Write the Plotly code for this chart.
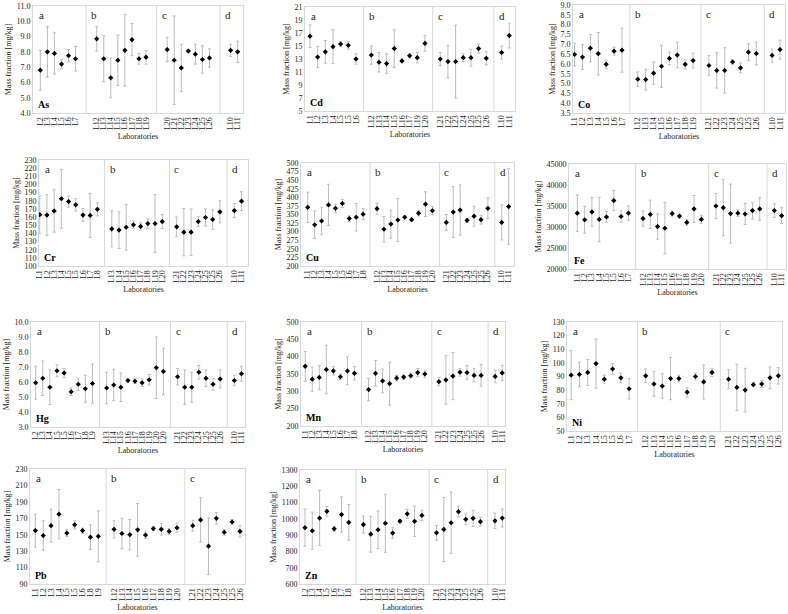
import plotly.graph_objects as go

# ── Colours / fonts ──────────────────────────
C_BORDER = "#d9d9d9"
C_ERR    = "#bdbdbd"
C_TEXT   = "#262626"
SERIF    = "Liberation Serif"
W, H     = 788, 614

# ── Data: lab labels per section (a, b, c, d), mean value, uncertainty ──
AS_LABS = [["L2", "L3", "L4", "L5", "L6", "L7"],
           ["L12", "L13", "L14", "L15", "L16", "L17", "L18", "L19"],
           ["L20", "L21", "L22", "L23", "L24", "L25", "L26"],
           ["L10", "L11"]]
AS_MEAN = [6.8, 8.0, 7.9, 7.2, 7.75, 7.55,
           8.85, 7.55, 6.3, 7.45, 8.1, 8.8, 7.55, 7.65,
           8.15, 7.45, 6.95, 8.05, 7.85, 7.5, 7.6,
           8.1, 8.0]
AS_UNC = [1.3, 1.65, 1.35, 0.3, 0.4, 0.8,
          0.8, 1.5, 1.3, 1.65, 2.35, 1.05, 0.35, 0.45,
          0.8, 2.9, 1.55, 0.1, 0.65, 0.9, 0.6,
          0.4, 0.7]

CD_LABS = [["L1", "L2", "L3", "L4", "L5", "L5", "L6"],
           ["L12", "L13", "L14", "L15", "L16", "L17", "L19", "L20"],
           ["L21", "L22", "L23", "L24", "L25", "L25", "L26"],
           ["L10", "L11"]]
CD_MEAN = [16.5, 13.3, 14.1, 14.9, 15.3, 15.1, 13.0,
           13.6, 12.5, 12.3, 14.6, 12.7, 13.5, 13.2, 15.4,
           13.0, 12.6, 12.6, 13.2, 13.2, 14.6, 13.1,
           14.0, 16.6]
CD_UNC = [1.75, 1.6, 1.75, 2.6, 0.4, 0.6, 0.8,
          1.4, 1.5, 1.5, 2.9, 0.3, 0.3, 0.8, 1.2,
          1.0, 2.5, 5.6, 0.6, 1.3, 0.7, 1.0,
          1.0, 1.9]

CO_LABS = [["L1", "L2", "L3", "L4", "L5", "L6", "L7"],
           ["L12", "L13", "L14", "L15", "L16", "L17", "L18", "L19"],
           ["L21", "L22", "L23", "L24", "L25", "L25", "L26"],
           ["L10", "L11"]]
CO_MEAN = [6.48, 6.35, 6.8, 6.52, 5.98, 6.65, 6.7,
           5.22, 5.2, 5.53, 5.88, 6.28, 6.45, 5.98, 6.17,
           5.92, 5.67, 5.67, 6.1, 5.8, 6.6, 6.53,
           6.43, 6.73]
CO_UNC = [0.58, 0.63, 0.7, 1.08, 0.22, 0.2, 1.12,
          0.37, 0.53, 0.57, 1.07, 0.32, 0.65, 0.22, 0.38,
          0.5, 0.9, 1.15, 0.1, 0.25, 0.43, 0.58,
          0.33, 0.48]

CR_LABS = [["L1", "L2", "L3", "L4", "L5", "L5", "L6", "L7", "L8"],
           ["L13", "L14", "L15", "L16", "L17", "L18", "L19", "L20"],
           ["L21", "L22", "L23", "L24", "L25", "L25", "L26"],
           ["L10", "L11"]]
CR_MEAN = [163, 162.5, 167.5, 182.5, 179, 175, 162.5, 162, 169.5,
           145.5, 144, 147.5, 150.5, 148.5, 152, 152, 154.5,
           148, 141.5, 141.5, 154.5, 159.5, 157, 166.5,
           168, 179.5]
CR_UNC = [23, 25, 26, 36, 7, 7.5, 8, 27, 8,
          22, 22.5, 28, 4.5, 4.5, 6, 35.5, 8.5,
          12, 29, 28.5, 6, 10.5, 12, 13.5,
          8.5, 11.5]

CU_LABS = [["L1", "L2", "L3", "L4", "L5", "L5", "L6", "L7", "L8"],
           ["L12", "L13", "L14", "L15", "L16", "L17", "L18", "L19", "L20"],
           ["L21", "L22", "L23", "L24", "L25", "L25", "L26"],
           ["L10", "L11"]]
CU_MEAN = [371, 320, 331, 378, 368, 382, 338, 342, 351,
           367, 307, 322, 334, 342, 335, 354, 380, 361,
           327, 357, 363, 333, 345, 335, 368,
           327, 373]
CU_UNC = [44, 40, 40, 60, 12, 12, 8, 40, 16,
          17, 37, 41, 62, 5, 4, 8, 36, 12,
          23, 74, 73, 6, 29, 13, 30,
          51, 110]

FE_LABS = [["L1", "L2", "L3", "L4", "L5", "L5", "L6", "L7"],
           ["L12", "L13", "L14", "L15", "L16", "L17", "L18", "L19", "L20"],
           ["L21", "L22", "L23", "L24", "L25", "L25", "L26"],
           ["L10", "L11"]]
FE_MEAN = [33300, 31700, 33600, 31800, 32400, 36300, 32500, 33300,
           32000, 33000, 30100, 29700, 33200, 32600, 31100, 34300, 31800,
           35000, 34600, 33200, 33300, 33100, 33900, 34300,
           33900, 32700]
FE_UNC = [4350, 3200, 3400, 5300, 1300, 2400, 1400, 1700,
          1800, 3400, 3000, 6100, 600, 500, 700, 3200, 1000,
          3000, 6700, 7000, 800, 2500, 2000, 2700,
          1600, 1900]

HG_LABS = [["L2", "L3", "L4", "L5", "L5", "L6", "L7", "L8", "L9"],
           ["L13", "L14", "L15", "L16", "L17", "L18", "L19", "L20", "L20"],
           ["L21", "L22", "L23", "L24", "L25", "L25", "L26"],
           ["L10", "L11"]]
HG_MEAN = [5.95, 6.25, 5.65, 6.75, 6.6, 5.35, 5.85, 5.55, 5.9,
           5.6, 5.8, 5.65, 6.1, 6.05, 5.95, 6.15, 6.95, 6.7,
           6.35, 5.65, 5.65, 6.65, 6.25, 5.85, 6.2,
           6.1, 6.55]
HG_UNC = [1.1, 1.15, 1.15, 0.4, 0.3, 0.25, 0.4, 0.9, 1.3,
          1.05, 1.05, 0.95, 0.1, 0.15, 0.25, 0.35, 2.05, 1.55,
          0.55, 1.15, 1.0, 0.45, 0.55, 0.4, 0.6,
          0.35, 0.5]

MN_LABS = [["L1", "L2", "L3", "L4", "L5", "L6", "L7", "L8"],
           ["L12", "L13", "L14", "L15", "L16", "L17", "L18", "L19", "L20"],
           ["L21", "L22", "L23", "L24", "L25", "L25", "L26"],
           ["L10", "L11"]]
MN_MEAN = [372, 335, 340, 363, 359, 342, 359, 352,
           305, 352, 330, 322, 338, 341, 345, 354, 350,
           328, 333, 344, 355, 354, 346, 346,
           343, 353]
MN_UNC = [43, 35, 35, 70, 12, 8, 40, 19,
          32, 37, 34, 62, 8, 6, 7, 12, 11,
          12, 70, 68, 11, 20, 19, 31,
          18, 22]

NI_LABS = [["L1", "L2", "L3", "L4", "L5", "L5", "L6", "L7"],
           ["L12", "L13", "L14", "L15", "L16", "L17", "L18", "L19", "L20"],
           ["L21", "L22", "L23", "L24", "L25", "L25", "L26"]]
NI_MEAN = [91, 91.5, 93, 99.5, 88, 95.5, 89, 81,
           90.5, 84.5, 83, 88.5, 88.5, 78.5, 90, 86, 93,
           88, 82, 80, 84, 84.5, 89, 90.5]
NI_UNC = [18, 9, 9.5, 18, 3, 4, 3.5, 7.5,
          5, 9, 9, 15.5, 2.5, 3.5, 2.5, 12.5, 3,
          7, 17, 16, 1.5, 2.5, 8, 6]

PB_LABS = [["L1", "L2", "L3", "L4", "L5", "L5", "L6", "L8", "L9"],
           ["L12", "L13", "L14", "L15", "L16", "L17", "L18", "L19", "L20"],
           ["L21", "L22", "L23", "L24", "L25", "L25", "L26"]]
PB_MEAN = [155, 149, 161, 175, 152, 162, 155, 147, 148,
           156.5, 151.5, 150, 156, 149.5, 157.5, 156.5, 154, 158.5,
           161, 168, 136, 170, 153, 165.5, 154]
PB_UNC = [20, 18, 20, 30, 4, 5, 3, 15, 31,
          10.5, 18.5, 18.5, 32, 4, 2.5, 7, 3.5, 5.5,
          6.5, 27, 34.5, 7, 3.5, 3, 7]

ZN_LABS = [["L2", "L3", "L4", "L5", "L6", "L7", "L8"],
           ["L12", "L13", "L14", "L15", "L16", "L17", "L18", "L19", "L20"],
           ["L21", "L22", "L23", "L24", "L25", "L25", "L26"],
           ["L10", "L11"]]
ZN_MEAN = [946, 927, 1005, 1046, 939, 1026, 978,
           965, 906, 933, 973, 913, 986, 1031, 985, 1021,
           914, 935, 976, 1044, 997, 1003, 983,
           988, 1005]
ZN_UNC = [114, 114, 170, 30, 15, 108, 110,
          52, 110, 115, 178, 33, 10, 28, 93, 32,
          45, 197, 188, 33, 32, 50, 27,
          47, 55]

SECTIONS = ["a", "b", "c", "d"]

# ── Panel layout: element, data, box in px (l, r, t, b), y range, dtick, fmt,
#    slots between sections, left / right padding in slots ──
PANELS = [
    ("As", AS_LABS, AS_MEAN, AS_UNC, (33, 243, 6, 113),   (4, 11),        1,    ".1f", 3, 1.04, 0.76),
    ("Cd", CD_LABS, CD_MEAN, CD_UNC, (305, 515, 7, 111),  (5, 21),        2,    "d",   2, 0.65, 0.75),
    ("Co", CO_LABS, CO_MEAN, CO_UNC, (573, 785, 5, 113),  (3.5, 9),       0.5,  ".1f", 2, 0.2,  0.63),
    ("Cr", CR_LABS, CR_MEAN, CR_UNC, (39, 248, 160, 266), (100, 230),     10,   "d",   2, 0.1,  0.9),
    ("Cu", CU_LABS, CU_MEAN, CU_UNC, (301, 514, 163, 266), (200, 500),    25,   "d",   2, 0.97, 0.77),
    ("Fe", FE_LABS, FE_MEAN, FE_UNC, (569, 786, 164, 269), (20000, 45000), 5000, "d",  2, 1.14, 0.6),
    ("Hg", HG_LABS, HG_MEAN, HG_UNC, (31, 245, 322, 427), (3, 10),        1,    ".1f", 2, 0.66, 0.5),
    ("Mn", MN_LABS, MN_MEAN, MN_UNC, (301, 505, 322, 426), (200, 500),    50,   "d",   2, 0.6,  0.4),
    ("Ni", NI_LABS, NI_MEAN, NI_UNC, (567, 782, 322, 431), (50, 130),     10,   "d",   2, 0.5,  0.45),
    ("Pb", PB_LABS, PB_MEAN, PB_UNC, (30, 245, 469, 584), (90, 230),      20,   "d",   2, 0.68, 0.64),
    ("Zn", ZN_LABS, ZN_MEAN, ZN_UNC, (300, 505, 470, 584), (600, 1300),   100,  "d",   2, 0.68, 0.37),
]

fig = go.Figure()
shapes, annotations = [], []
layout = {}

for i, (el, groups, mean, unc, box, yr, dtick, fmt, gap, padl, padr) in enumerate(PANELS, start=1):
    xs, labels, starts, ends = [], [], [], []
    p = 0
    for g in groups:
        starts.append(p)
        for lab in g:
            xs.append(p)
            labels.append(lab)
            p += 1
        ends.append(p - 1)
        p += gap - 1
    sfx = "" if i == 1 else str(i)
    xa, ya = f"x{sfx}", f"y{sfx}"

    fig.add_trace(go.Scatter(
        x=xs, y=mean, mode="markers",
        marker=dict(symbol="diamond", size=4, color="black"),
        error_y=dict(type="data", array=unc, color=C_ERR, thickness=1, width=1.5),
        xaxis=xa, yaxis=ya, showlegend=False,
    ))

    l, r, t, b = box
    axis_common = dict(
        showline=True, mirror=True, linecolor=C_BORDER, linewidth=1,
        showgrid=False, zeroline=False, ticks="", automargin=False,
        tickfont=dict(family=SERIF, size=8, color=C_TEXT),
    )
    layout[f"xaxis{sfx}"] = dict(
        **axis_common,
        domain=[l / W, r / W], anchor=ya,
        range=[-padl, xs[-1] + padr],
        tickmode="array", tickvals=xs, ticktext=labels, tickangle=-90,
        title=dict(text="Laboratories", font=dict(family=SERIF, size=8, color=C_TEXT), standoff=4),
    )
    layout[f"yaxis{sfx}"] = dict(
        **axis_common,
        domain=[1 - b / H, 1 - t / H], anchor=xa,
        range=list(yr), tick0=yr[0], dtick=dtick, tickformat=fmt,
        title=dict(text="Mass fraction [mg/kg]", font=dict(family=SERIF, size=8, color=C_TEXT), standoff=3),
    )

    # section separators and letters
    for k in range(len(groups)):
        if k == 0:
            annotations.append(dict(
                x=0, xref=f"{xa} domain", xanchor="left", xshift=4,
                y=1, yref=f"{ya} domain", yanchor="top", yshift=-1,
                text=SECTIONS[k], showarrow=False,
                font=dict(family=SERIF, size=11, color=C_TEXT)))
        else:
            xm = (ends[k - 1] + starts[k]) / 2
            shapes.append(dict(
                type="line", xref=xa, yref=f"{ya} domain",
                x0=xm, x1=xm, y0=0, y1=1,
                line=dict(color=C_BORDER, width=1)))
            annotations.append(dict(
                x=xm, xref=xa, xanchor="left", xshift=3,
                y=1, yref=f"{ya} domain", yanchor="top", yshift=-1,
                text=SECTIONS[k], showarrow=False,
                font=dict(family=SERIF, size=11, color=C_TEXT)))

    # element label
    annotations.append(dict(
        x=0, xref=f"{xa} domain", xanchor="left", xshift=3,
        y=0, yref=f"{ya} domain", yanchor="bottom", yshift=1,
        text=f"<b>{el}</b>", showarrow=False,
        font=dict(family=SERIF, size=10, color="black")))

fig.update_layout(
    **layout,
    width=W, height=H,
    margin=dict(l=0, r=0, t=0, b=0),
    paper_bgcolor="white", plot_bgcolor="white",
    font=dict(family=SERIF, color=C_TEXT),
    shapes=shapes, annotations=annotations,
    showlegend=False,
)

# page body has a default 8px margin; drop it so the figure sits at the top-left corner
fig.write_html("out.html",
               config={"displayModeBar": False},
               post_script="document.body.style.margin='0px'; document.body.style.overflow='hidden';")
